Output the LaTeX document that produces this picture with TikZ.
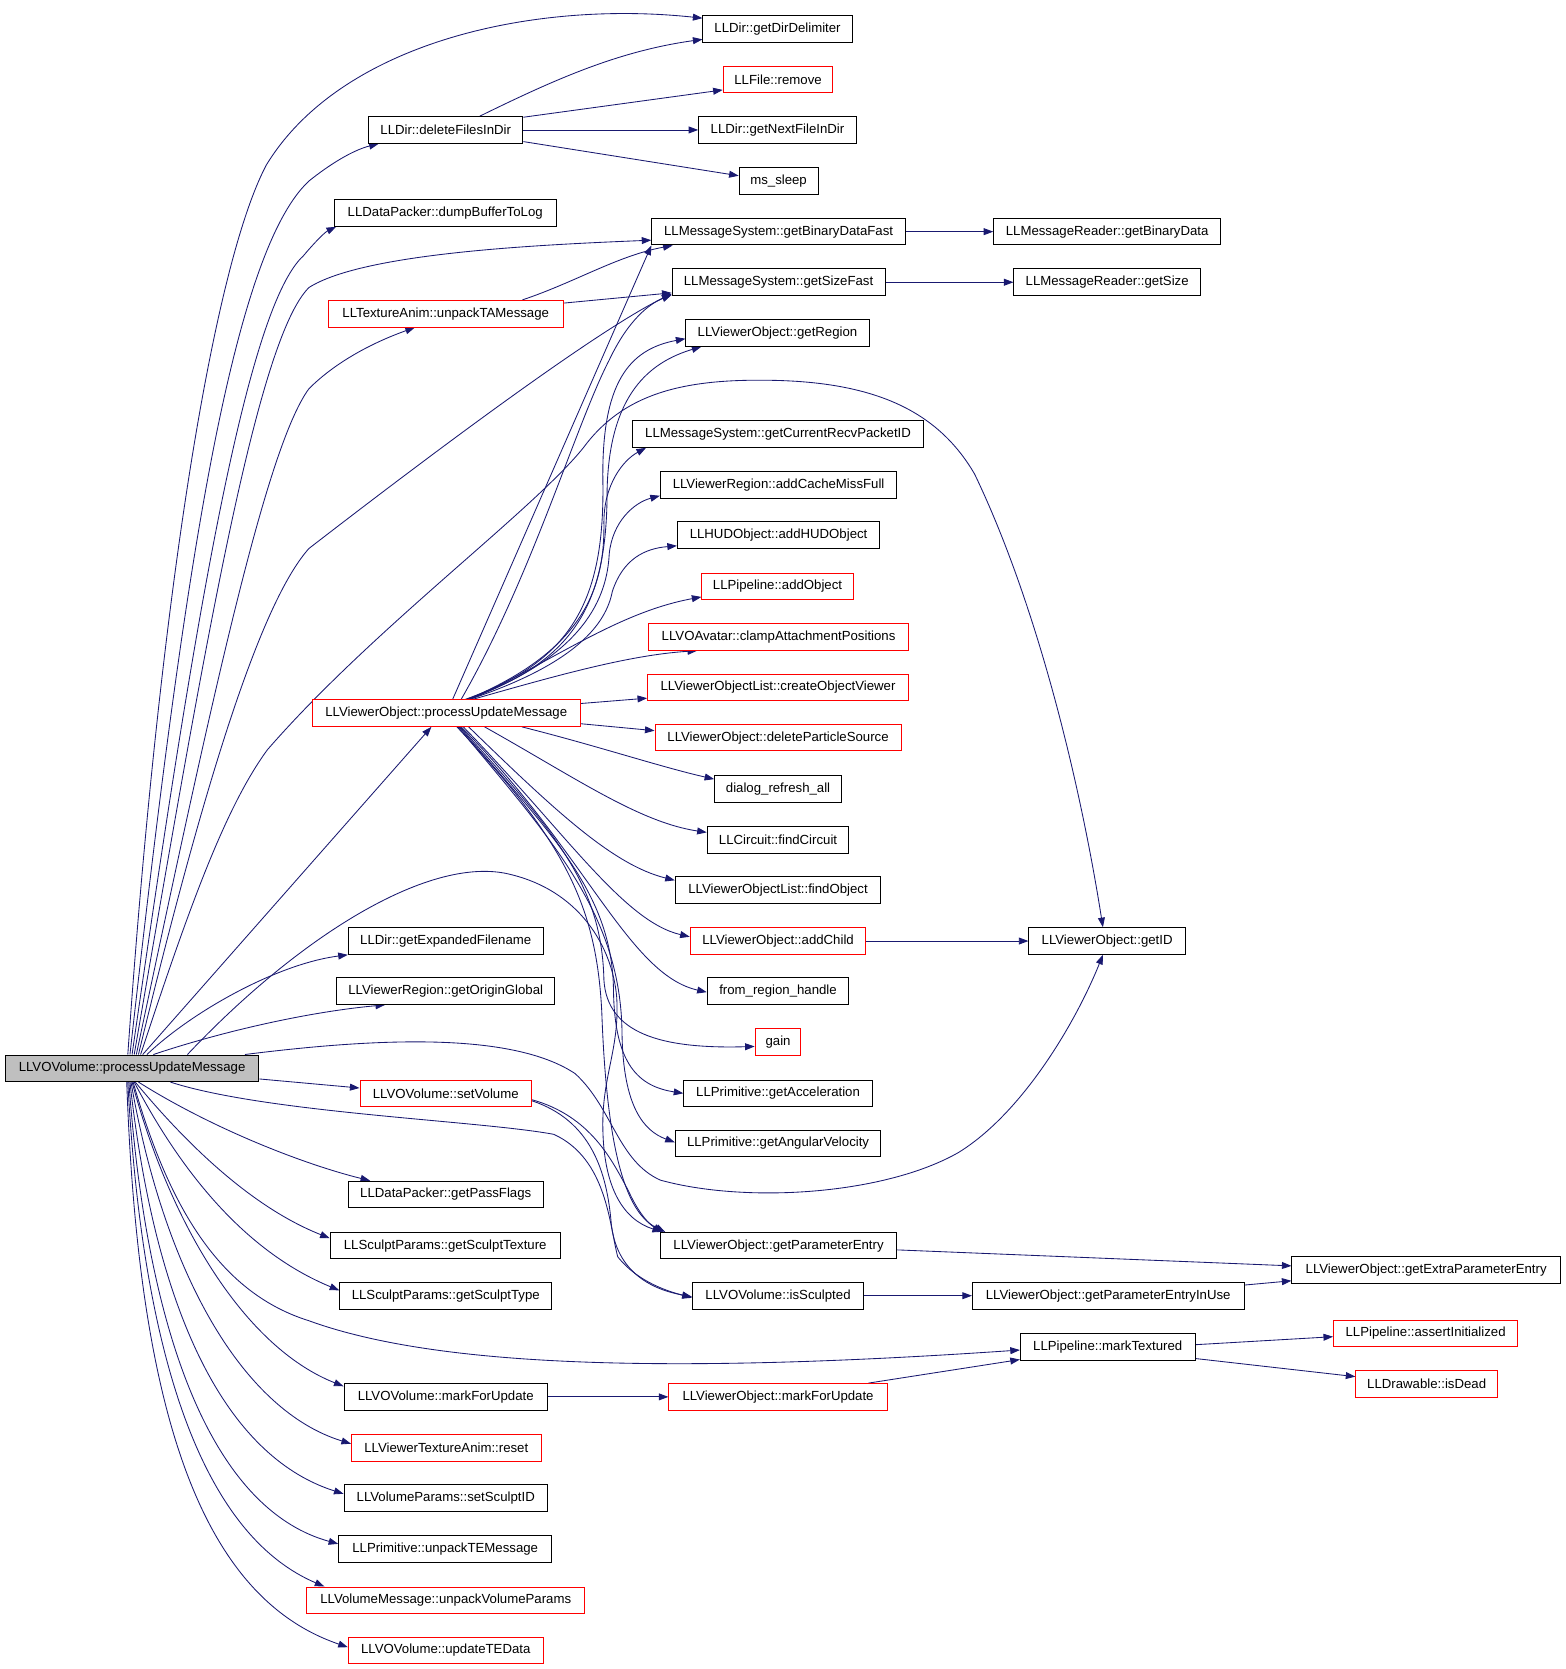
\documentclass[tikz,border=0pt]{standalone}
\usepackage{fontspec}
\setmainfont{Liberation Sans}
\usetikzlibrary{arrows.meta,backgrounds}
\definecolor{edgec}{HTML}{191970}
\definecolor{srcfill}{HTML}{BFBFBF}
\tikzset{
  box/.style={draw=black,line width=0.9pt,fill=white,rectangle,inner sep=0pt,minimum height=25pt,
    font=\fontsize{12.4}{14}\selectfont,text=black},
  redbox/.style={box,draw=red},
  srcbox/.style={box,fill=srcfill},
  e/.style={draw=edgec,line width=0.8pt,-{Triangle[length=9pt,width=6.5pt]}},
}
\begin{document}
\begin{tikzpicture}[x=1pt,y=-1pt]
\useasboundingbox (0,0) rectangle (1470,1567);
% nodes
\node[srcbox,minimum width=238pt] (src) at (124,1003) {LLVOVolume::processUpdateMessage};
\node[box,minimum width=140pt] (gdd) at (730,27) {LLDir::getDirDelimiter};
\node[redbox,minimum width=103pt] (frm) at (730.5,74.5) {LLFile::remove};
\node[box,minimum width=145pt] (ddel) at (418.5,122) {LLDir::deleteFilesInDir};
\node[box,minimum width=148pt] (gnf) at (730,122) {LLDir::getNextFileInDir};
\node[box,minimum width=74pt] (mss) at (731,170) {ms\_sleep};
\node[box,minimum width=208pt] (dbl) at (418,200) {LLDataPacker::dumpBufferToLog};
\node[box,minimum width=238pt] (gbdf) at (731,217.5) {LLMessageSystem::getBinaryDataFast};
\node[box,minimum width=213pt] (gbd) at (1039.5,217.5) {LLMessageReader::getBinaryData};
\node[box,minimum width=200pt] (gsf) at (731,265) {LLMessageSystem::getSizeFast};
\node[box,minimum width=175pt] (gsz) at (1039.5,265) {LLMessageReader::getSize};
\node[redbox,minimum width=221pt] (uta) at (418.5,294.5) {LLTextureAnim::unpackTAMessage};
\node[box,minimum width=172pt] (grg) at (730,312.5) {LLViewerObject::getRegion};
\node[box,minimum width=273pt] (gcr) at (730.5,407.5) {LLMessageSystem::getCurrentRecvPacketID};
\node[box,minimum width=222pt] (acm) at (731,455.5) {LLViewerRegion::addCacheMissFull};
\node[box,minimum width=190pt] (ahud) at (731,502.5) {LLHUDObject::addHUDObject};
\node[redbox,minimum width=142pt] (aob) at (730,550.5) {LLPipeline::addObject};
\node[redbox,minimum width=244pt] (cap) at (731,598) {LLVOAvatar::clampAttachmentPositions};
\node[redbox,minimum width=245pt] (cov) at (730.5,645.5) {LLViewerObjectList::createObjectViewer};
\node[redbox,minimum width=252pt] (vo) at (419,669.5) {LLViewerObject::processUpdateMessage};
\node[redbox,minimum width=231pt] (dps) at (730.5,692.5) {LLViewerObject::deleteParticleSource};
\node[box,minimum width=119pt] (dra) at (730.5,740.5) {dialog\_refresh\_all};
\node[box,minimum width=133pt] (fci) at (730.5,788.5) {LLCircuit::findCircuit};
\node[box,minimum width=193pt] (fob) at (730.5,835.5) {LLViewerObjectList::findObject};
\node[redbox,minimum width=165pt] (ach) at (730.5,883.5) {LLViewerObject::addChild};
\node[box,minimum width=147pt] (gid) at (1039.5,883.5) {LLViewerObject::getID};
\node[box,minimum width=183pt] (gef) at (418.5,883.5) {LLDir::getExpandedFilename};
\node[box,minimum width=133pt] (frh) at (730.5,930.5) {from\_region\_handle};
\node[box,minimum width=205pt] (gog) at (418.5,930.5) {LLViewerRegion::getOriginGlobal};
\node[redbox,minimum width=43pt] (gain) at (730.5,978.5) {gain};
\node[redbox,minimum width=161pt] (svol) at (418.5,1026.5) {LLVOVolume::setVolume};
\node[box,minimum width=177pt] (gacc) at (730.5,1026.5) {LLPrimitive::getAcceleration};
\node[box,minimum width=193pt] (gav) at (730.5,1073.5) {LLPrimitive::getAngularVelocity};
\node[box,minimum width=183pt] (gpf) at (418.5,1121.5) {LLDataPacker::getPassFlags};
\node[box,minimum width=222pt] (gpe) at (731,1169.5) {LLViewerObject::getParameterEntry};
\node[box,minimum width=252pt] (gepe) at (1339,1192.5) {LLViewerObject::getExtraParameterEntry};
\node[box,minimum width=216pt] (gst) at (418,1169.5) {LLSculptParams::getSculptTexture};
\node[box,minimum width=199pt] (gsty) at (418.5,1216.5) {LLSculptParams::getSculptType};
\node[box,minimum width=161pt] (isc) at (730.5,1216.5) {LLVOVolume::isSculpted};
\node[box,minimum width=255pt] (gpiu) at (1040.5,1216.5) {LLViewerObject::getParameterEntryInUse};
\node[box,minimum width=164pt] (mtx) at (1040,1264.5) {LLPipeline::markTextured};
\node[redbox,minimum width=173pt] (ain) at (1338.5,1252) {LLPipeline::assertInitialized};
\node[redbox,minimum width=133pt] (idd) at (1339.5,1299.5) {LLDrawable::isDead};
\node[box,minimum width=191pt] (vmfu) at (418.5,1311.5) {LLVOVolume::markForUpdate};
\node[redbox,minimum width=205pt] (omfu) at (730.5,1311.5) {LLViewerObject::markForUpdate};
\node[redbox,minimum width=178pt] (vtar) at (419,1359.5) {LLViewerTextureAnim::reset};
\node[box,minimum width=191pt] (ssid) at (418.5,1406.5) {LLVolumeParams::setSculptID};
\node[box,minimum width=200pt] (utem) at (418,1454.5) {LLPrimitive::unpackTEMessage};
\node[redbox,minimum width=261pt] (uvp) at (418.5,1502.5) {LLVolumeMessage::unpackVolumeParams};
\node[redbox,minimum width=183pt] (utd) at (418.5,1549.5) {LLVOVolume::updateTEData};

\begin{pgfonlayer}{background}
% from src, upward
\draw[e] ([shift={(-4,0)}]src.north) .. controls (150,560) and (200,250) .. (250,155) .. controls (320,40) and (500,0) .. ([shift={(0,3)}]gdd.north west);
\draw[e] ([shift={(-2,0)}]src.north) .. controls (170,560) and (215,240) .. (290,170) .. controls (315,150) and (335,140) .. ([shift={(10,0)}]ddel.south west);
\draw[e] (src.north) .. controls (180,600) and (230,290) .. (285,240) .. controls (295,228) and (305,218) .. ([shift={(2,0)}]dbl.south west);
\draw[e] ([shift={(2,0)}]src.north) .. controls (190,620) and (240,320) .. (290,270) .. controls (340,238) and (500,230) .. ([shift={(0,8)}]gbdf.west);
\draw[e] ([shift={(4,0)}]src.north) .. controls (200,650) and (250,420) .. (290,365) .. controls (320,335) and (360,318) .. ([shift={(82,0)}]uta.south west);
\draw[e] ([shift={(6,0)}]src.north) .. controls (200,700) and (250,560) .. (290,515) .. controls (400,430) and (560,310) .. ([shift={(0,-2)}]gsf.south west);
\draw[e] ([shift={(8,0)}]src.north) .. controls (175,860) and (210,760) .. (251,704) .. controls (350,590) and (500,480) .. (548,420) .. controls (585,370) and (640,356) .. (720,357) .. controls (820,358) and (880,385) .. (915,445) .. controls (975,570) and (1015,740) .. ([shift={(-4,0)}]gid.north);
\draw[e] ([shift={(10,0)}]src.north) -- ([shift={(-14,0)}]vo.south);
\draw[e] ([shift={(14,0)}]src.north) .. controls (180,950) and (260,905) .. (gef.south west);
\draw[e] ([shift={(20,0)}]src.north) .. controls (210,968) and (290,950) .. ([shift={(46,0)}]gog.south west);
\draw[e] ([shift={(52,0)}]src.north) .. controls (280,880) and (400,805) .. (475,820) .. controls (545,835) and (575,890) .. (579,936) .. controls (582,985) and (565,1010) .. (566,1060) .. controls (567,1115) and (585,1145) .. ([shift={(2,0)}]gpe.north west);
\draw[e] ([shift={(106,0)}]src.north) .. controls (350,975) and (480,968) .. (540,1008) .. controls (575,1040) and (580,1090) .. (620,1108) .. controls (700,1130) and (830,1122) .. (900,1082) .. controls (960,1045) and (1010,960) .. ([shift={(-4,0)}]gid.south);
% from src, right and downward
\draw[e] ([shift={(0,10)}]src.east) -- ([shift={(0,-5)}]svol.west);
\draw[e] ([shift={(36,0)}]src.south) .. controls (250,1045) and (450,1052) .. (520,1065) .. controls (570,1088) and (572,1150) .. (580,1180) .. controls (600,1205) and (630,1213) .. ([shift={(0,2)}]isc.west);
\draw[e] ([shift={(6,0)}]src.south) .. controls (200,1060) and (285,1093) .. ([shift={(21,0)}]gpf.north west);
\draw[e] ([shift={(3,0)}]src.south) .. controls (180,1080) and (240,1135) .. ([shift={(0,-7)}]gst.west);
\draw[e] ([shift={(2,0)}]src.south) .. controls (170,1100) and (230,1175) .. ([shift={(0,-5)}]gsty.west);
\draw[e] ([shift={(1,0)}]src.south) .. controls (160,1140) and (210,1215) .. (290,1240) .. controls (400,1280) and (600,1292) .. ([shift={(0,3)}]mtx.west);
\draw[e] (src.south) .. controls (160,1150) and (230,1265) .. ([shift={(0,3)}]vmfu.north west);
\draw[e] ([shift={(-1,0)}]src.south) .. controls (155,1200) and (230,1325) .. ([shift={(0,-4)}]vtar.west);
\draw[e] ([shift={(-2,0)}]src.south) .. controls (148,1250) and (220,1370) .. ([shift={(0,-4)}]ssid.west);
\draw[e] ([shift={(-3,0)}]src.south) .. controls (140,1280) and (210,1420) .. ([shift={(0,-5)}]utem.west);
\draw[e] ([shift={(-4,0)}]src.south) .. controls (135,1300) and (200,1445) .. ([shift={(17,0)}]uvp.north west);
\draw[e] ([shift={(-5,0)}]src.south) .. controls (130,1330) and (190,1500) .. ([shift={(0,-3)}]utd.west);
% deleteFilesInDir
\draw[e] ([shift={(32,0)}]ddel.north) .. controls (520,75) and (580,48) .. ([shift={(0,-3)}]gdd.south west);
\draw[e] ([shift={(0,1)}]ddel.north east) -- ([shift={(0,-3)}]frm.south west);
\draw[e] (ddel.east) -- (gnf.west);
\draw[e] ([shift={(0,-2)}]ddel.south east) -- ([shift={(0,-5)}]mss.west);
% message system
\draw[e] (gbdf.east) -- (gbd.west);
\draw[e] (gsf.east) -- (gsz.west);
\draw[e] ([shift={(72,0)}]uta.north) .. controls (540,265) and (580,240) .. ([shift={(20,0)}]gbdf.south west);
\draw[e] ([shift={(0,3)}]uta.north east) -- ([shift={(0,-3)}]gsf.south west);
% from VO, upward
\draw[e] ([shift={(6,0)}]vo.north) -- (gbdf.south west);
\draw[e] ([shift={(14,0)}]vo.north) .. controls (500,540) and (540,400) .. (572,338) .. controls (590,300) and (610,285) .. ([shift={(0,-1)}]gsf.south west);
\draw[e] ([shift={(18,0)}]vo.north) .. controls (540,620) and (568,560) .. (566,450) .. controls (565,360) and (590,328) .. ([shift={(0,5.5)}]grg.west);
\draw[e] ([shift={(19,0)}]vo.north) .. controls (545,620) and (570,560) .. (570,460) .. controls (572,370) and (610,340) .. ([shift={(15,0)}]grg.south west);
\draw[e] ([shift={(20,0)}]vo.north) .. controls (550,610) and (568,550) .. (567,490) .. controls (567,455) and (585,432) .. ([shift={(13,0)}]gcr.south west);
\draw[e] ([shift={(21,0)}]vo.north) .. controls (550,615) and (570,560) .. (572,520) .. controls (575,490) and (595,472) .. ([shift={(0,-3)}]acm.south west);
\draw[e] ([shift={(22,0)}]vo.north) .. controls (550,620) and (570,580) .. (575,555) .. controls (585,525) and (605,515) .. ([shift={(0,-3)}]ahud.south west);
\draw[e] ([shift={(23,0)}]vo.north) .. controls (520,620) and (580,575) .. ([shift={(0,-3)}]aob.south west);
\draw[e] ([shift={(25,0)}]vo.north) .. controls (520,635) and (590,615) .. ([shift={(46,0)}]cap.south west);
\draw[e] ([shift={(0,-9)}]vo.east) -- ([shift={(0,10)}]cov.west);
\draw[e] ([shift={(0,10)}]vo.east) -- ([shift={(0,-6.5)}]dps.west);
% from VO, downward
\draw[e] ([shift={(71,0)}]vo.south) .. controls (560,700) and (620,720) .. ([shift={(0,-9)}]dra.west);
\draw[e] ([shift={(36,0)}]vo.south) .. controls (540,730) and (600,772) .. ([shift={(0,-7)}]fci.west);
\draw[e] ([shift={(21,0)}]vo.south) .. controls (520,760) and (575,812) .. ([shift={(0,-9)}]fob.west);
\draw[e] ([shift={(16,0)}]vo.south) .. controls (530,780) and (585,865) .. ([shift={(0,-4)}]ach.west);
\draw[e] ([shift={(14,0)}]vo.south) .. controls (550,800) and (590,915) .. ([shift={(0,1)}]frh.west);
\draw[e] ([shift={(13,0)}]vo.south) .. controls (520,780) and (565,830) .. (567,920) .. controls (570,970) and (620,985) .. ([shift={(0,4)}]gain.west);
\draw[e] ([shift={(12,0)}]vo.south) .. controls (520,785) and (575,840) .. (576,930) .. controls (577,1000) and (600,1020) .. (gacc.west);
\draw[e] ([shift={(11,0)}]vo.south) .. controls (520,790) and (583,860) .. (584,970) .. controls (585,1040) and (605,1062) .. ([shift={(0,-1)}]gav.west);
\draw[e] ([shift={(10,0)}]vo.south) .. controls (530,790) and (560,850) .. (565,950) .. controls (570,1090) and (590,1140) .. ([shift={(5,0)}]gpe.north west);
% setVolume
\draw[e] ([shift={(0,6)}]svol.east) .. controls (555,1048) and (575,1090) .. (590,1118) .. controls (600,1140) and (610,1150) .. ([shift={(3,0)}]gpe.north west);
\draw[e] ([shift={(0,7)}]svol.east) .. controls (555,1052) and (570,1100) .. (574,1150) .. controls (580,1200) and (620,1212) .. ([shift={(0,1)}]isc.west);
% right part
\draw[e] ([shift={(0,4)}]gpe.east) -- ([shift={(0,-4)}]gepe.west);
\draw[e] (isc.east) -- (gpiu.west);
\draw[e] ([shift={(0,-10)}]gpiu.east) -- ([shift={(0,10)}]gepe.west);
\draw[e] ([shift={(0,-2)}]mtx.east) -- ([shift={(0,3)}]ain.west);
\draw[e] ([shift={(0,11)}]mtx.east) -- ([shift={(0,-7)}]idd.west);
\draw[e] (vmfu.east) -- (omfu.west);
\draw[e] ([shift={(-18,0)}]omfu.north east) -- ([shift={(0,-1)}]mtx.south west);
\draw[e] (ach.east) -- (gid.west);
\end{pgfonlayer}
\end{tikzpicture}
\end{document}
